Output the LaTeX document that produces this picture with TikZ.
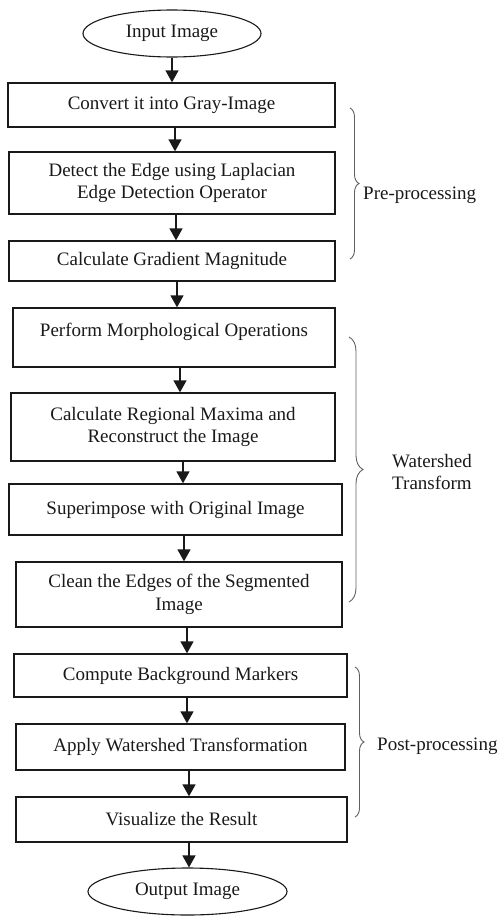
\documentclass[tikz,border=0pt]{standalone}
\usepackage{fontspec}
\setmainfont{Liberation Serif}
\usetikzlibrary{shapes.geometric,arrows.meta,decorations.pathreplacing}
\definecolor{ink}{RGB}{25,25,25}
\definecolor{bracecol}{RGB}{95,95,95}
\begin{document}
\begin{tikzpicture}[x=1pt,y=-1pt,
  every node/.style={font=\fontsize{19}{22.5}\selectfont, text=ink},
  stepbox/.style={draw=ink, line width=1.3pt, rectangle, inner sep=0pt, align=center},
  term/.style={draw=ink, line width=1.1pt, ellipse, inner sep=0pt, minimum width=#1, minimum height=47},
  arr/.style={draw=ink, line width=1.3pt, -{Triangle[width=13pt,length=12pt]}},
  grp/.style={draw=bracecol, line width=0.9pt, decorate, decoration={brace, amplitude=#1}}
]
\useasboundingbox (0,0) rectangle (501,916);

\node[term=178] (in) at (172,33.5) {Input Image};
\node[stepbox, minimum width=327, minimum height=44] (b1) at (171.5,105) {Convert it into Gray-Image};
\node[stepbox, minimum width=326, minimum height=62] (b2) at (172,183) {Detect the Edge using Laplacian\\Edge Detection Operator};
\node[stepbox, minimum width=326, minimum height=40] (b3) at (172,261) {Calculate Gradient Magnitude};
\node[stepbox, minimum width=322, minimum height=59] (b4) at (174,337.5) {};
\node[anchor=base, inner sep=0pt] (t4) at (174,336) {Perform Morphological Operations};
\node[stepbox, minimum width=324, minimum height=68] (b5) at (173,427) {Calculate Regional Maxima and\\Reconstruct the Image};
\node[stepbox, minimum width=333, minimum height=51] (b6) at (175.5,509.5) {Superimpose with Original Image};
\node[stepbox, minimum width=326, minimum height=65] (b7) at (179,594.5) {Clean the Edges of the Segmented\\Image};
\node[stepbox, minimum width=333, minimum height=43] (b8) at (180.5,675.5) {Compute Background Markers};
\node[stepbox, minimum width=329, minimum height=46] (b9) at (180.5,747) {Apply Watershed Transformation};
\node[stepbox, minimum width=331, minimum height=45] (b10) at (181.5,819.5) {Visualize the Result};
\node[term=199] (out) at (187.5,891.5) {Output Image};

\draw[arr] (in.south -| 172,0) -- (b1.north -| 172,0);
\draw[arr] (b1.south -| 175,0) -- (b2.north -| 175,0);
\draw[arr] (b2.south -| 176,0) -- (b3.north -| 176,0);
\draw[arr] (b3.south -| 177,0) -- (b4.north -| 177,0);
\draw[arr] (b4.south -| 180,0) -- (b5.north -| 180,0);
\draw[arr] (b5.south -| 183,0) -- (b6.north -| 183,0);
\draw[arr] (b6.south -| 184,0) -- (b7.north -| 184,0);
\draw[arr] (b7.south -| 187,0) -- (b8.north -| 187,0);
\draw[arr] (b8.south -| 187,0) -- (b9.north -| 187,0);
\draw[arr] (b9.south -| 189,0) -- (b10.north -| 189,0);
\draw[arr] (b10.south -| 189,0) -- (out.north -| 189,0);

\coordinate (p1) at (350,108);
\coordinate (p2) at (350,259);
\coordinate (w1) at (349,337);
\coordinate (w2) at (349,602);
\coordinate (q1) at (355,667);
\coordinate (q2) at (355,817);
\draw[grp=9pt] (p1) -- (p2);
\draw[grp=14pt] (w1) -- (w2);
\draw[grp=9pt] (q1) -- (q2);

\node[anchor=base west, inner sep=0pt] (lpre) at (363,199) {Pre-processing};
\node[align=center, inner sep=0pt] (lws) at (432,472) {Watershed\\Transform};
\node[anchor=base west, inner sep=0pt] (lpost) at (377,750) {Post-processing};
\end{tikzpicture}
\end{document}
